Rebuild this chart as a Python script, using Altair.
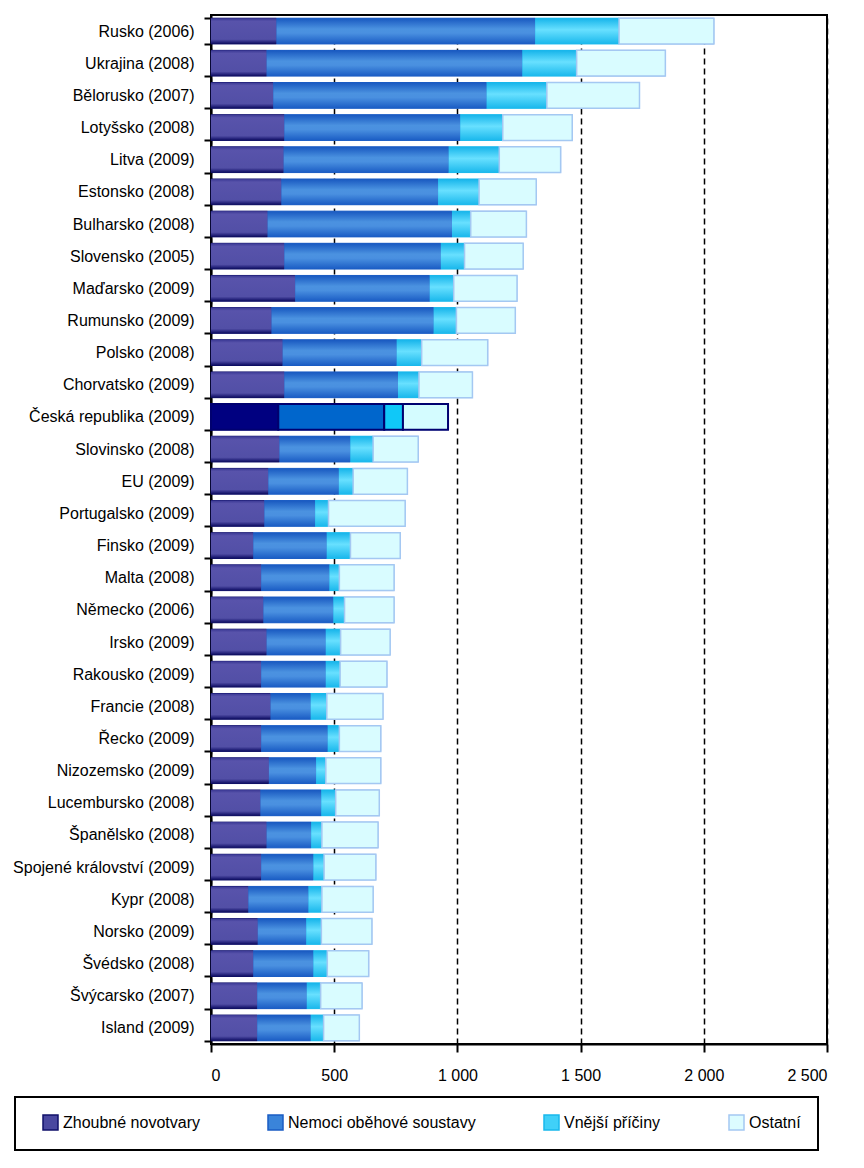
import altair as alt
import pandas as pd

countries = [
    "Rusko (2006)", "Ukrajina (2008)", "Bělorusko (2007)", "Lotyšsko (2008)",
    "Litva (2009)", "Estonsko (2008)", "Bulharsko (2008)", "Slovensko (2005)",
    "Maďarsko (2009)", "Rumunsko (2009)", "Polsko (2008)", "Chorvatsko (2009)",
    "Česká republika (2009)", "Slovinsko (2008)", "EU (2009)", "Portugalsko (2009)",
    "Finsko (2009)", "Malta (2008)", "Německo (2006)", "Irsko (2009)",
    "Rakousko (2009)", "Francie (2008)", "Řecko (2009)", "Nizozemsko (2009)",
    "Lucembursko (2008)", "Španělsko (2008)", "Spojené království (2009)",
    "Kypr (2008)", "Norsko (2009)", "Švédsko (2008)", "Švýcarsko (2007)",
    "Island (2009)",
]
series = ["Zhoubné novotvary", "Nemoci oběhové soustavy", "Vnější příčiny", "Ostatní"]

zhoubne = [266, 226, 253, 298, 295, 286, 230, 298, 342, 246, 291, 298, 273, 278, 233, 217,
           172, 204, 213, 226, 204, 242, 204, 235, 201, 226, 204, 152, 190, 172, 188, 188]
obehove = [1050, 1038, 866, 714, 670, 636, 748, 635, 546, 658, 463, 461, 430, 288, 286, 206,
           298, 277, 284, 240, 262, 163, 270, 192, 247, 181, 212, 244, 197, 244, 201, 217]
vnejsi = [340, 220, 244, 172, 205, 166, 76, 96, 97, 92, 101, 85, 76, 92, 58, 54,
          96, 40, 45, 60, 58, 65, 47, 39, 58, 43, 43, 54, 61, 56, 56, 52]
ostatni = [385, 360, 376, 282, 249, 232, 226, 238, 257, 239, 268, 217, 183, 183, 220, 311,
           202, 222, 201, 201, 190, 228, 168, 223, 177, 228, 210, 208, 205, 168, 168, 145]
x_ticks = [0, 500, 1000, 1500, 2000, 2500]
highlight = "Česká republika (2009)"

rows = []
for i, c in enumerate(countries):
    for k, (s, vals) in enumerate(zip(series, [zhoubne, obehove, vnejsi, ostatni])):
        rows.append({"country": c, "series": s, "value": vals[i], "order": k,
                     "cz": c == highlight})
df = pd.DataFrame(rows)

FONT = "Liberation Sans"


def grad(stops):
    return alt.LinearGradient(
        gradient="linear", x1=0, y1=0, x2=0, y2=1,
        stops=[alt.GradientStop(offset=o, color=c) for o, c in stops],
    )


normal_style = [
    dict(color=grad([(0, "#3a3894"), (0.12, "#5853ab"), (0.82, "#524fa6"), (0.92, "#2a2880"), (1, "#0c0c5e")])),
    dict(color=grad([(0, "#1858c0"), (0.42, "#4b92e0"), (0.58, "#4a90e0"), (1, "#1a5cc4")])),
    dict(color=grad([(0, "#16b4ea"), (0.45, "#68e0ff"), (1, "#1ab8ec")])),
    dict(color="#d9fcff", stroke="#a4c8f2", strokeWidth=1.5),
]
cz_style = [
    dict(color="#000080", stroke="#000070", strokeWidth=2),
    dict(color="#0066cc", stroke="#000070", strokeWidth=2),
    dict(color="#10c8f8", stroke="#000070", strokeWidth=2),
    dict(color="#d4fcff", stroke="#000070", strokeWidth=2),
]
legend_fill = ["#4a48a0", "#3a84da", "#40d0f8", "#dcfcff"]
legend_stroke = ["#10106a", "#1a5cc4", "#18b8ec", "#a4c8f2"]

y_enc = alt.Y(
    "country:N", sort=countries,
    scale=alt.Scale(paddingInner=0.2, paddingOuter=0.1),
    axis=alt.Axis(title=None, tickBand="extent", tickSize=7, tickColor="black",
                  tickWidth=2, labelPadding=10, labelFontSize=16, labelFont=FONT,
                  labelColor="black", labelLimit=300, domain=True, domainColor="black",
                  domainWidth=2, grid=False),
)
x_enc = alt.X(
    "x0:Q",
    scale=alt.Scale(domain=[0, 2500], nice=False),
    axis=alt.Axis(title=None, values=x_ticks, grid=True, gridColor="black",
                  gridDash=[6, 4], gridWidth=1.5, tickSize=8, tickColor="black",
                  tickWidth=2, labelPadding=15, labelFontSize=16, labelFont=FONT,
                  labelColor="black", domainColor="black", domainWidth=2,
                  labelExpr="replace(format(datum.value, ','), ',', ' ')"),
)

base = alt.Chart(df).transform_stack(
    stack="value", groupby=["country"], as_=["x0", "x1"],
    sort=[alt.SortField("order", order="ascending")],
)

legend_opts = dict(title=None, orient="none", legendX=-196, legendY=1082,
                   direction="horizontal", symbolType="square",
                   symbolSize=225, symbolStrokeWidth=1.5,
                   labelFontSize=16, labelFont=FONT, labelColor="black",
                   columnPadding=57, labelOffset=4, padding=17,
                   symbolOffset=10, strokeColor="black", labelLimit=400)

legend_layer = base.mark_bar().encode(
    y=y_enc, x=x_enc, x2="x1:Q",
    fill=alt.Fill("series:N", scale=alt.Scale(domain=series, range=legend_fill),
                  legend=alt.Legend(**legend_opts)),
    stroke=alt.Stroke("series:N", scale=alt.Scale(domain=series, range=legend_stroke),
                      legend=alt.Legend(**legend_opts)),
)

layers = [legend_layer]
for k, s in enumerate(series):
    layers.append(
        base.transform_filter((alt.datum.series == s) & (alt.datum.cz == False))
        .mark_bar(**normal_style[k])
        .encode(y=y_enc, x=x_enc, x2="x1:Q")
    )
    layers.append(
        base.transform_filter((alt.datum.series == s) & (alt.datum.cz == True))
        .mark_bar(**cz_style[k])
        .encode(y=y_enc, x=x_enc, x2="x1:Q")
    )

chart = (
    alt.layer(*layers)
    .properties(
        width=616, height=1029,
        autosize=alt.AutoSizeParams(type="none"),
        padding={"left": 203, "top": 7, "right": 29, "bottom": 117},
        background="white",
    )
    .configure_view(stroke="black", strokeWidth=2)
    .configure_legend(strokeWidth=2)
)

chart.save("out.html", embed_options={"renderer": "svg", "actions": False})
